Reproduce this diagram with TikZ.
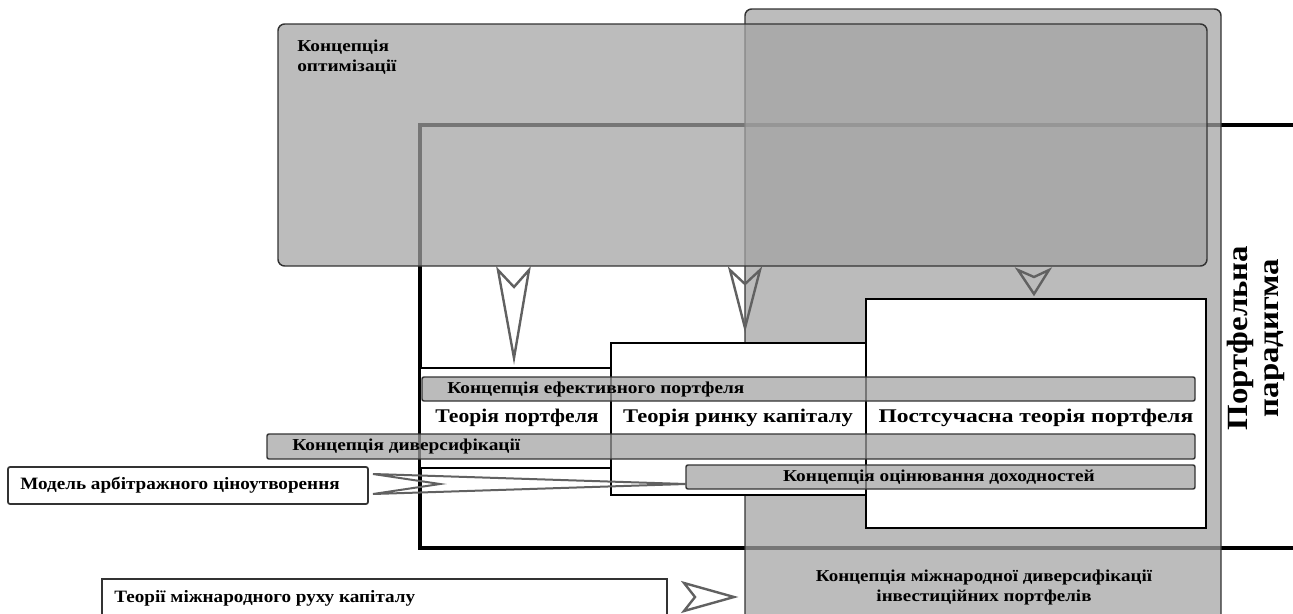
\documentclass[tikz,border=0pt]{standalone}
\usepackage{fontspec}
\setmainfont{Liberation Serif}[FakeStretch=1.12]
\newfontfamily\fLbl{Liberation Serif}[FakeStretch=1.16]
\newfontfamily\fBig{Liberation Serif}[FakeStretch=1.165]
\newfontfamily\fPost{Liberation Serif}[FakeStretch=1.215]
\newfontfamily\fSide{Liberation Serif}[FakeStretch=1.105]
\newfontfamily\fInt{Liberation Serif}[FakeStretch=1.14]
\begin{document}
\begin{tikzpicture}[x=0.75pt,y=-0.75pt,
  graybox/.style={draw=black!80, line width=1.1pt, fill=black!36, fill opacity=0.73},
  whitebox/.style={draw=black, line width=1.6pt, fill=white},
  bar/.style={draw=black!80, line width=1.1pt, fill=black!36, fill opacity=0.73, rounded corners=1.5pt},
  dart/.style={draw=black!62, line width=1.8pt, line join=miter},
  lbl/.style={font=\fLbl\bfseries\fontsize{12.5}{14.5}\selectfont, inner sep=0pt, text=black},
  big/.style={font=\fBig\bfseries\fontsize{14.5}{17}\selectfont, inner sep=0pt, text=black},
  side/.style={font=\fSide\bfseries\fontsize{13}{16}\selectfont, inner sep=0pt, text=black}]
\useasboundingbox (0,0) rectangle (1293,614);
\clip (0,0) rectangle (1293,614);
% portfolio paradigm frame
\draw[line width=2.3pt, fill=white] (420,125) rectangle (1330,548);
% international diversification (big gray)
\draw[graybox, rounded corners=5pt] (745,9) rectangle (1221,660);
% optimisation concept
\draw[graybox, rounded corners=5pt] (278,24) rectangle (1207,266);
\node[lbl, anchor=north west, align=left] (opt) at (297,40) {Концепція\\оптимізації};
% darts from optimisation
\draw[dart] (498,270) -- (514,287) -- (529,270) -- (514,358) -- cycle;
\draw[dart] (730,270) -- (745,284) -- (760,270) -- (745,328) -- cycle;
\draw[dart] (1018,270) -- (1034,277) -- (1049,270) -- (1034,294) -- cycle;
% theory boxes
\draw[whitebox] (420,368) rectangle (611,468);
\draw[whitebox] (611,343) rectangle (866,495);
\draw[whitebox] (866,299) rectangle (1206,528);
% bars
\draw[bar] (422,377) rectangle (1195,401);
\draw[bar] (267,434) rectangle (1195,459);
\draw[bar] (686,465) rectangle (1195,489);
\node[lbl, anchor=west] (eff) at (447,389) {Концепція ефективного портфеля};
\node[lbl, anchor=west] (div) at (292,446) {Концепція диверсифікації};
\node[lbl] (ocin) at (939,477) {Концепція оцінювання доходностей};
\node[big, font=\bfseries\fontsize{14.5}{17}\selectfont] (tp) at (517,418) {Теорія портфеля};
\node[big] (trk) at (738,418) {Теорія ринку капіталу};
\node[big, font=\fPost\bfseries\fontsize{14.5}{17}\selectfont] (post) at (1036,418) {Постсучасна теорія портфеля};
% arbitrage pricing model
\draw[draw=black!80, line width=1.3pt, fill=white, rounded corners=1.5pt] (8,467) rectangle (368,504);
\node[side, anchor=west] (apt) at (20,485) {Модель арбітражного ціноутворення};
\draw[dart, line width=1.5pt] (373,474) -- (440,484) -- (373,494) -- (686,484) -- cycle;
% international capital movement
\draw[draw=black!80, line width=1.3pt, fill=white] (102,579) rectangle (667,640);
\node[side, anchor=west] (icm) at (114,598) {Теорії міжнародного руху капіталу};
\draw[dart] (684,583) -- (695,597) -- (684,611) -- (734,597) -- cycle;
\node[font=\fInt\bfseries\fontsize{12.5}{15}\selectfont, inner sep=0pt, align=center] (idiv) at (984,587) {Концепція міжнародної диверсифікації\\інвестиційних портфелів};
% paradigm label
\node[font=\bfseries\fontsize{22}{23.5}\selectfont, inner sep=0pt, align=center, rotate=90] (par) at (1256,338) {Портфельна\\парадигма};
\end{tikzpicture}
\end{document}
